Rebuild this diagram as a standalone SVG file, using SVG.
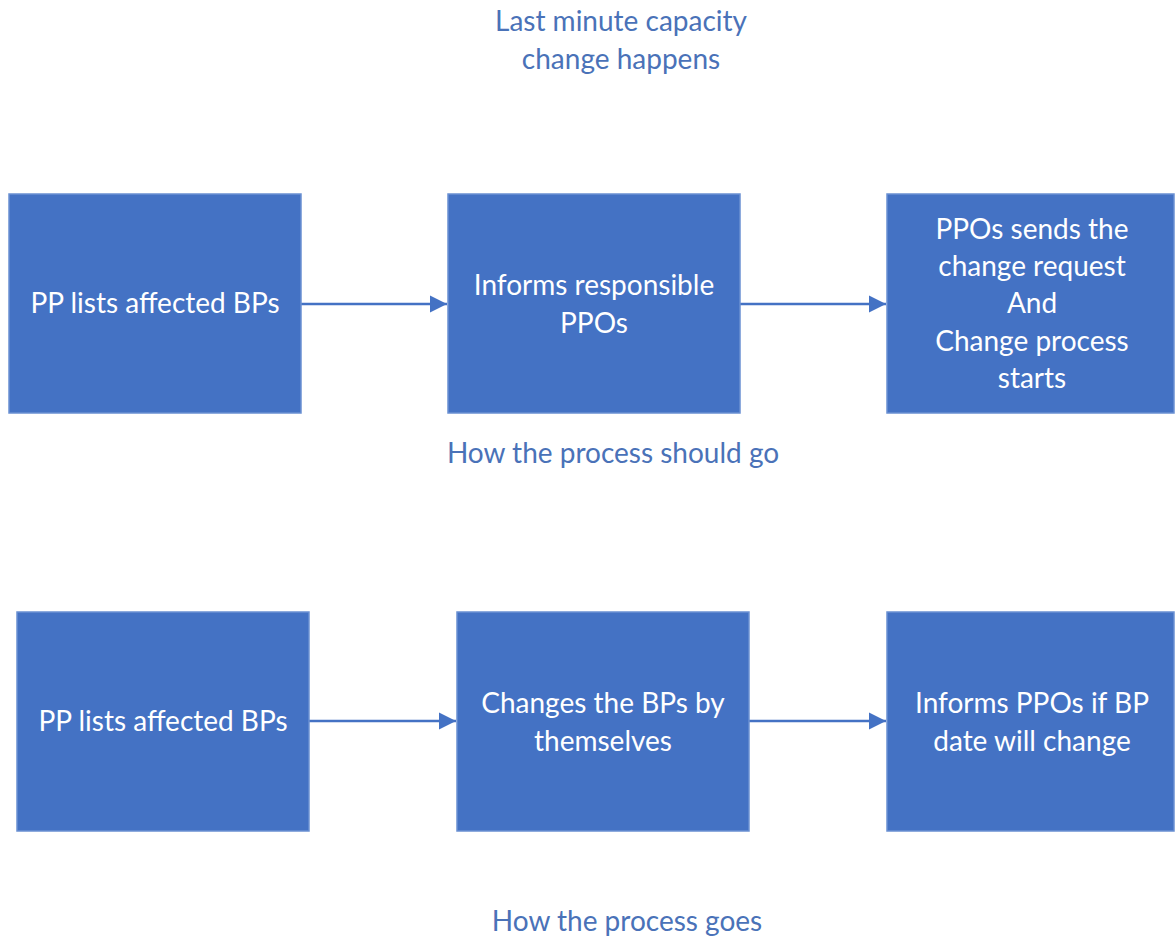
<svg xmlns="http://www.w3.org/2000/svg" width="1176" height="937" viewBox="0 0 1176 937">
<defs>
<style>
.box{fill:#4472C4;stroke:#6A90D2;stroke-width:1.5}
.bt{font-family:Lato,"Open Sans",sans-serif;font-size:28px;fill:#FFFFFF;text-anchor:middle}
.lbl{font-family:Lato,"Open Sans",sans-serif;font-size:28px;fill:#4A72B8;text-anchor:middle}
.con{stroke:#4472C4;stroke-width:2.5;fill:none}
</style>
<marker id="ah" viewBox="0 0 10 10" refX="10" refY="5" markerWidth="7" markerHeight="7" markerUnits="strokeWidth" orient="auto">
<path d="M0,0 L10,5 L0,10 z" fill="#4472C4"/>
</marker>
</defs>
<rect width="1176" height="937" fill="#FFFFFF"/>
<text class="lbl" x="621" y="31">Last minute capacity</text>
<text class="lbl" x="621" y="69">change happens</text>
<text class="lbl" x="613" y="463">How the process should go</text>
<text class="lbl" x="627" y="931">How the process goes</text>
<g id="connectors">
<line class="con" x1="301" y1="304" x2="447" y2="304" marker-end="url(#ah)"/>
<line class="con" x1="740" y1="304" x2="886" y2="304" marker-end="url(#ah)"/>
<line class="con" x1="309" y1="721" x2="456" y2="721" marker-end="url(#ah)"/>
<line class="con" x1="749" y1="721" x2="886" y2="721" marker-end="url(#ah)"/>
</g>
<g id="n1">
<rect class="box" x="9" y="194" width="292" height="219"/>
<text class="bt" x="155" y="313">PP lists affected BPs</text>
</g>
<g id="n2">
<rect class="box" x="448" y="194" width="292" height="219"/>
<text class="bt" x="594" y="295">Informs responsible</text>
<text class="bt" x="594" y="333">PPOs</text>
</g>
<g id="n3">
<rect class="box" x="887" y="194" width="287" height="219"/>
<text class="bt" x="1032" y="239">PPOs sends the</text>
<text class="bt" x="1032" y="276">change request</text>
<text class="bt" x="1032" y="313">And</text>
<text class="bt" x="1032" y="351">Change process</text>
<text class="bt" x="1032" y="388">starts</text>
</g>
<g id="n4">
<rect class="box" x="17" y="612" width="292" height="219"/>
<text class="bt" x="163" y="731">PP lists affected BPs</text>
</g>
<g id="n5">
<rect class="box" x="457" y="612" width="292" height="219"/>
<text class="bt" x="603" y="713">Changes the BPs by</text>
<text class="bt" x="603" y="751">themselves</text>
</g>
<g id="n6">
<rect class="box" x="887" y="612" width="287" height="219"/>
<text class="bt" x="1032" y="713">Informs PPOs if BP</text>
<text class="bt" x="1032" y="751">date will change</text>
</g>
</svg>
